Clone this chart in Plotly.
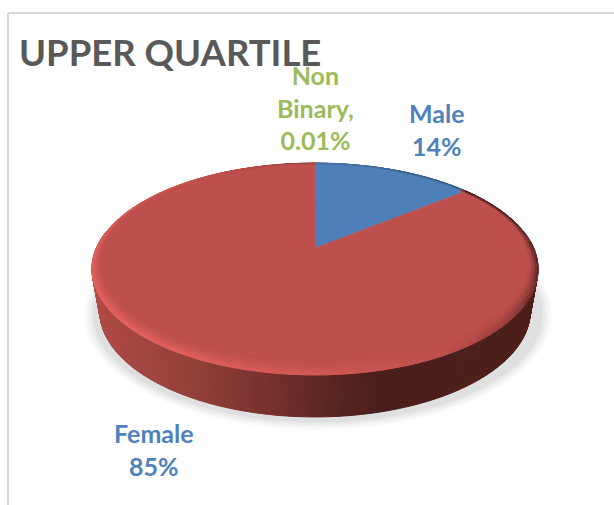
import numpy as np
import plotly.graph_objects as go

# --- data
categories = ["Male", "Female", "Non Binary"]
values = [14, 85, 0.01]
label_texts = ["Male<br>14%", "Female<br>85%", "Non<br>Binary,<br>0.01%"]
title_text = "UPPER QUARTILE"

# --- styling / geometry of the tilted disc
W, H = 614, 505
APEX = (315.0, 248.0)
A, B, K = 218.6, 101.8, 0.198      # perspective projection of the unit disc
DEPTH = 42.0
BOTTOM_SCALE = 0.965
ELL_C = (315.0, 269.0)
SX, SY = 0.955, 0.92
INNER_CY = 262.0
TOPS = {"Male": (79, 127, 185), "Female": (189, 79, 76), "Non Binary": (155, 187, 89)}
LIGHT_ANGLE = 240.0
LEVELS = 24


def project(theta_deg, r=1.0):
    t = np.radians(theta_deg)
    X, Y = r * np.sin(t), r * np.cos(t)
    d = 1 + K * Y
    return APEX[0] + A * X / d, APEX[1] - B * Y / d


def ring_point(theta_deg, s):
    """s = 0 inner bevel boundary, s = 1 outer rim."""
    x, y = project(theta_deg)
    ix = ELL_C[0] + SX * (x - ELL_C[0])
    iy = INNER_CY + SY * (y - ELL_C[1])
    return ix + s * (x - ix), iy + s * (y - iy)


def mix(c1, c2, f):
    return tuple(c1[i] + (c2[i] - c1[i]) * f for i in range(3))


def css(c):
    return "rgb(%d,%d,%d)" % tuple(int(round(v)) for v in c)


fig = go.Figure()


def polygons(buckets):
    for colour, polys in buckets.items():
        xs, ys = [], []
        for px, py in polys:
            xs += list(px) + [px[0], None]
            ys += list(py) + [py[0], None]
        fig.add_trace(go.Scatter(x=xs, y=ys, mode="lines", fill="toself", fillcolor=colour,
                                 line=dict(color=colour, width=1.0), hoverinfo="skip",
                                 showlegend=False))


# soft ground shadow
tt = np.linspace(0, 2 * np.pi, 200)
for grow, alpha in [(11, 0.022), (8, 0.028), (5, 0.035), (2, 0.04)]:
    fig.add_trace(go.Scatter(
        x=ELL_C[0] + 3 + (223 + grow) * np.cos(tt),
        y=ELL_C[1] + DEPTH + 3 + (107 + grow * 0.8) * np.sin(tt),
        mode="lines", fill="toself", fillcolor="rgba(0,0,0,%.3f)" % alpha,
        line=dict(width=0), hoverinfo="skip", showlegend=False))

# side wall
side_stops = [(-1.0, (176, 74, 70)), (-0.55, (146, 63, 58)), (-0.25, (122, 50, 47)),
              (0.1, (88, 35, 32)), (0.3, (74, 30, 27)), (1.0, (78, 31, 27))]
side_x = [p[0] for p in side_stops]
thetas = np.arange(80, 280.01, 0.5)
for a0, a1 in zip(thetas[:-1], thetas[1:]):
    x0, y0 = project(a0)
    x1, y1 = project(a1)
    u = ((x0 + x1) / 2 - ELL_C[0]) / 223.0
    col = css([np.interp(u, side_x, [p[1][i] for p in side_stops]) for i in range(3)])
    bx0 = ELL_C[0] + BOTTOM_SCALE * (x0 - ELL_C[0])
    bx1 = ELL_C[0] + BOTTOM_SCALE * (x1 - ELL_C[0])
    polygons({col: [([x0, x1, bx1, bx0], [y0, y1, y1 + DEPTH, y0 + DEPTH])]})

# flat top: wedges computed from the values
total = sum(values)
edges = np.concatenate([[0], np.cumsum(values) / total * 360.0])
spans = {}
for name, a0, a1 in zip(categories, edges[:-1], edges[1:]):
    spans[name] = (a0, a1)
    th = np.linspace(a0, a1, max(3, int((a1 - a0) * 2)))
    px, py = project(th)
    fig.add_trace(go.Scatter(x=[APEX[0], *px, APEX[0]], y=[APEX[1], *py, APEX[1]], mode="lines",
                             fill="toself", fillcolor=css(TOPS[name]),
                             line=dict(color=css(TOPS[name]), width=0.5 if a1 - a0 > 1 else 0),
                             hoverinfo="skip", showlegend=False, name=name))

# bevelled rim
highlight = (232, 100, 96)
buckets = {}
rings = np.linspace(0, 1, 9)
step = 2.0
for name, (a0, a1) in spans.items():
    if a1 - a0 < 1:
        continue
    base = TOPS[name]
    dark = tuple(v * (0.32 if name == "Female" else 0.72) for v in base)
    hi = highlight if name == "Female" else tuple(min(255, v * 1.25) for v in base)
    th = np.arange(a0, a1 + step, step)
    th[-1] = a1
    for t0, t1 in zip(th[:-1], th[1:]):
        v = np.cos(np.radians((t0 + t1) / 2 - LIGHT_ANGLE))
        for s0, s1 in zip(rings[:-1], rings[1:]):
            s = (s0 + s1) / 2
            e = v * s ** 1.5
            e = round(e * LEVELS) / LEVELS
            col = css(mix(base, hi, e) if e >= 0 else mix(base, dark, -e))
            p = [ring_point(t0, s0), ring_point(t1, s0), ring_point(t1, s1), ring_point(t0, s1)]
            buckets.setdefault(col, []).append(([q[0] for q in p], [q[1] for q in p]))
polygons(buckets)

# frame
frame = [dict(type="line", xref="x", yref="y", x0=8, x1=8, y0=13, y1=H, line=dict(color="#d9d9d9", width=2)),
         dict(type="line", xref="x", yref="y", x0=8, x1=W, y0=13, y1=13, line=dict(color="#d9d9d9", width=2))]

label_pos = [(437, 129, "#4f81bd"), (154, 449, "#4f81bd"), (315, 107, "#9bbb59")]
annotations = [dict(x=x, y=y, xref="x", yref="y", text=t, showarrow=False, xanchor="center", yanchor="middle",
                    align="center", font=dict(family="Lato, sans-serif", size=25, color=c, weight="bold"))
               for t, (x, y, c) in zip(label_texts, label_pos)]

fig.update_layout(
    width=W, height=H, margin=dict(l=0, r=0, t=0, b=0),
    paper_bgcolor="white", plot_bgcolor="white", showlegend=False,
    title=dict(text=title_text, x=19 / W, xanchor="left", y=1 - 53 / H, yanchor="middle",
               font=dict(family="Lato, sans-serif", size=36.5, color="#595959", weight="bold")),
    xaxis=dict(range=[0, W], visible=False, fixedrange=True),
    yaxis=dict(range=[H, 0], visible=False, fixedrange=True),
    shapes=frame, annotations=annotations,
)
fig.write_html("out.html", config={"displayModeBar": False},
               post_script="document.body.style.margin='0';")
